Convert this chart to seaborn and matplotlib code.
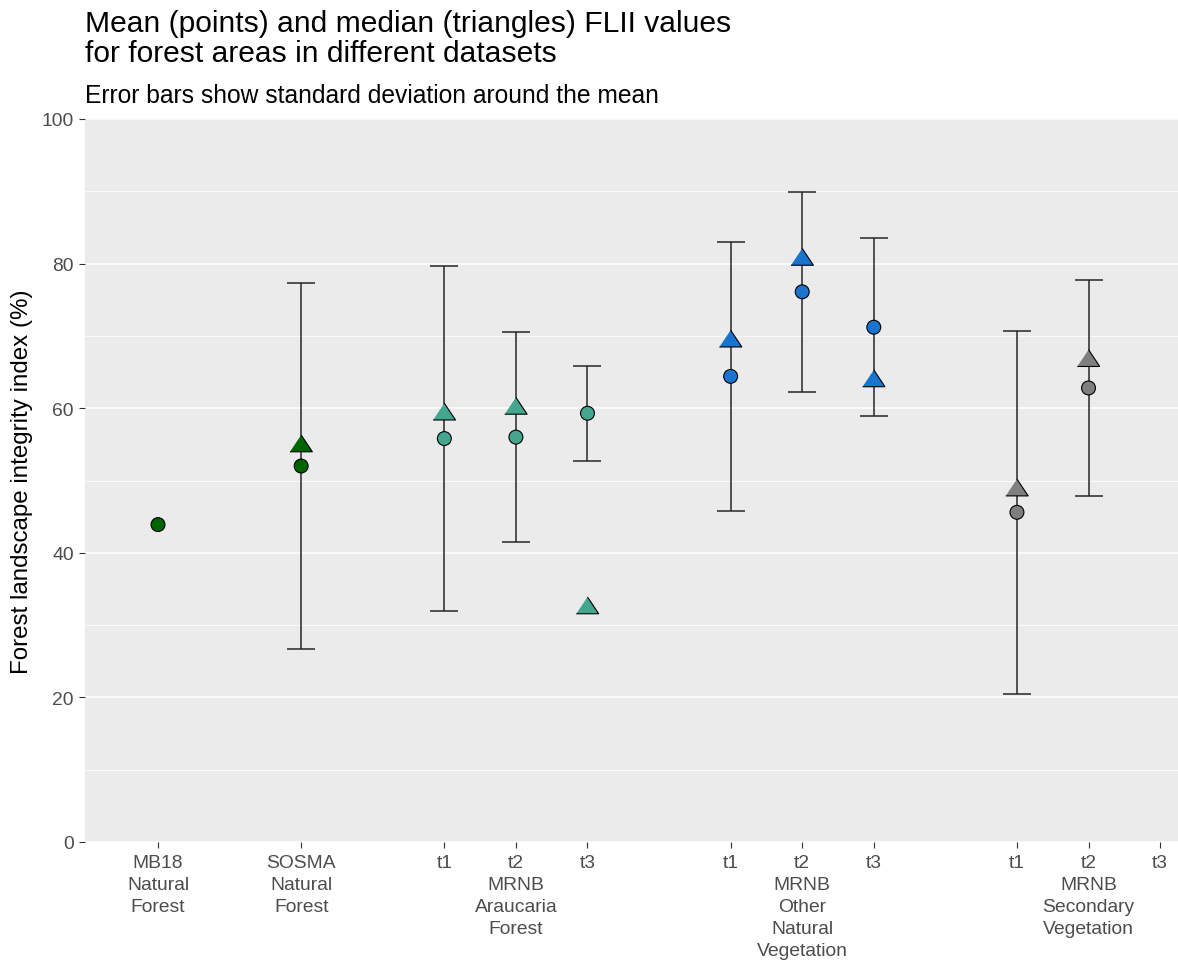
import numpy as np
import pandas as pd
import matplotlib
matplotlib.use("Agg")
import matplotlib.pyplot as plt
import seaborn as sns

# dataset groups and the periods in each one
GROUPS = ["MB18 Natural Forest", "SOSMA Natural Forest", "MRNB Araucaria Forest",
          "MRNB Other Natural Vegetation", "MRNB Secondary Vegetation"]
GROUP_LABELS = ["MB18\nNatural\nForest", "SOSMA\nNatural\nForest",
                "MRNB\nAraucaria\nForest", "MRNB\nOther\nNatural\nVegetation",
                "MRNB\nSecondary\nVegetation"]
PERIODS = [[""], [""], ["t1", "t2", "t3"], ["t1", "t2", "t3"], ["t1", "t2", "t3"]]

# values per slot, in order of GROUPS / PERIODS
MEAN = [43.9, 52.0, 55.8, 56.0, 59.3, 64.4, 76.1, 71.2, 45.6, 62.8, np.nan]
MEDIAN = [np.nan, 54.9, 59.3, 60.1, 32.5, 69.4, 80.7, 63.9, 48.8, 66.7, np.nan]
SD = [np.nan, 25.25, 23.9, 14.55, 6.6, 18.6, 13.85, 12.3, 25.1, 14.9, np.nan]

COLORS = {"MB18 Natural Forest": "#006400", "SOSMA Natural Forest": "#006400",
          "MRNB Araucaria Forest": "#45A68F", "MRNB Other Natural Vegetation": "#1874CD",
          "MRNB Secondary Vegetation": "#7F7F7F"}

# build slots: groups separated by one empty slot
rows = []
tick_labels = []
pos = 0
for g, glab, periods in zip(GROUPS, GROUP_LABELS, PERIODS):
    for j, p in enumerate(periods):
        rows.append({"group": g, "period": p, "x": pos})
        if len(periods) == 1:
            tick_labels.append(glab)
        elif j == 1:
            tick_labels.append(p + "\n" + glab)
        else:
            tick_labels.append(p)
        pos += 1
    pos += 1
df = pd.DataFrame(rows)
df["mean"] = MEAN
df["median"] = MEDIAN
df["sd"] = SD

sns.set_theme(style="darkgrid", rc={"axes.facecolor": "#EBEBEB", "grid.color": "white"})
plt.rcParams["font.family"] = ["Liberation Sans", "DejaVu Sans"]

W, H = 1178, 962
fig = plt.figure(figsize=(W / 100, H / 100), dpi=100)
ax = fig.add_axes([85 / W, 1 - 843 / H, 1 - 85 / W, (843 - 120) / H])

ax.errorbar(df["x"], df["mean"], yerr=df["sd"], fmt="none", ecolor="#262626",
            elinewidth=1.1, capsize=10, capthick=1.1, zorder=2)
sns.scatterplot(data=df, x="x", y="mean", hue="group", palette=COLORS, s=100,
                edgecolor="black", linewidth=0.8, marker="o", legend=False, ax=ax, zorder=3)
tri = [(-1, -0.6), (1, -0.6), (0, 0.9)]
sns.scatterplot(data=df, x="x", y="median", hue="group", palette=COLORS, s=260,
                edgecolor="black", linewidth=0.8, marker=tri, legend=False, ax=ax, zorder=4)

ax.set_xlim(-1.02, 14.25)
ax.set_ylim(0, 100)
ax.set_yticks([0, 20, 40, 60, 80, 100])
ax.set_yticks([10, 30, 50, 70, 90], minor=True)
ax.grid(axis="y", which="major", color="white", linewidth=1.1)
ax.grid(axis="y", which="minor", color="white", linewidth=0.55)
ax.grid(axis="x", visible=False)
ax.set_xticks(df["x"])
ax.set_xticklabels(tick_labels, linespacing=1.38, va="top")
for s in ax.spines.values():
    s.set_visible(False)
ax.tick_params(axis="both", which="major", length=4.5, width=0.8, color="#333333",
               labelsize=13.9, labelcolor="#4D4D4D", pad=3.5, bottom=True, left=True)
ax.tick_params(axis="x", which="major", pad=4.5)
ax.tick_params(axis="y", which="minor", length=0)
ax.set_xlabel("")
ax.set_ylabel("Forest landscape integrity index (%)", fontsize=17.4, color="black", labelpad=6)

fig.text(85 / W, 1 - 32 / H, "Mean (points) and median (triangles) FLII values",
         fontsize=21.6, va="baseline", ha="left", color="black")
fig.text(85 / W, 1 - 62 / H, "for forest areas in different datasets",
         fontsize=21.6, va="baseline", ha="left", color="black")
fig.text(85 / W, 1 - 103 / H, "Error bars show standard deviation around the mean",
         fontsize=17.7, va="baseline", ha="left", color="black")

fig.savefig("out.png", dpi=100)
